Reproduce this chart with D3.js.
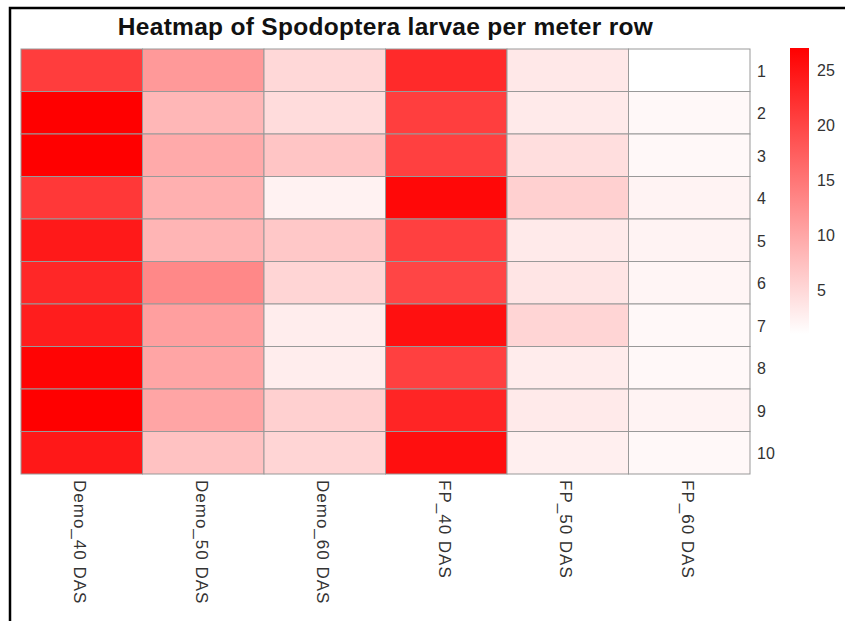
<!DOCTYPE html>
<html>
<head>
<meta charset="utf-8">
<script src="https://cdn.jsdelivr.net/npm/d3@7"></script>
<style>
  html, body { margin: 0; padding: 0; background: #ffffff; }
  svg { display: block; }
  text { font-family: "Liberation Sans", Arial, Helvetica, sans-serif; }
</style>
</head>
<body>
<svg id="chart" width="845" height="621"></svg>
<script>
// ---- data ----
const columns = ["Demo_40 DAS", "Demo_50 DAS", "Demo_60 DAS", "FP_40 DAS", "FP_50 DAS", "FP_60 DAS"];
const rows = ["1", "2", "3", "4", "5", "6", "7", "8", "9", "10"];
const demo40 = [20.8, 27.0, 27.0, 21.3, 24.5, 23.0, 24.0, 26.6, 27.0, 24.6];
const demo50 = [11.4, 8.3, 9.7, 9.1, 8.5, 13.1, 10.8, 10.2, 10.2, 7.2];
const demo60 = [5.0, 4.6, 6.9, 2.3, 6.6, 5.3, 2.8, 2.8, 5.8, 5.3];
const fp40 = [22.7, 20.7, 20.5, 26.2, 20.5, 20.0, 25.4, 20.5, 23.2, 25.5];
const fp50 = [3.3, 3.1, 4.4, 5.8, 3.1, 3.7, 5.3, 2.9, 3.1, 2.6];
const fp60 = [1.0, 1.7, 1.7, 2.2, 2.2, 2.0, 1.7, 1.7, 2.2, 1.7];
const legendTicks = [5, 10, 15, 20, 25];
const title = "Heatmap of Spodoptera larvae per meter row";

const series = [demo40, demo50, demo60, fp40, fp50, fp60];
const cells = [];
series.forEach((vals, ci) => vals.forEach((v, ri) => cells.push({col: columns[ci], row: rows[ri], value: v})));

// ---- layout ----
const svg = d3.select("#chart");
const grid = {left: 21, right: 750, top: 49, bottom: 474};

// outer frame (only left/top edges fall inside the picture)
svg.append("rect")
  .attr("x", 10).attr("y", 8).attr("width", 900).attr("height", 700)
  .attr("fill", "none").attr("stroke", "#000").attr("stroke-width", 2.5);

const x = d3.scaleBand().domain(columns).range([grid.left, grid.right]);
const y = d3.scaleBand().domain(rows).range([grid.top, grid.bottom]);
const ext = d3.extent(cells, d => d.value);
const color = d3.scaleLinear().domain(ext).range(["#ffffff", "#ff0000"]);

// cells
svg.append("g").selectAll("rect").data(cells).join("rect")
  .attr("x", d => x(d.col)).attr("y", d => y(d.row))
  .attr("width", x.bandwidth()).attr("height", y.bandwidth())
  .attr("fill", d => color(d.value))
  .attr("stroke", "#999999").attr("stroke-width", 1);

// title
svg.append("text")
  .attr("x", (grid.left + grid.right) / 2).attr("y", 35)
  .attr("text-anchor", "middle")
  .attr("font-size", 24.5).attr("font-weight", "bold").attr("fill", "#111")
  .attr("letter-spacing", 0.3)
  .text(title);

// row labels
svg.append("g").selectAll("text").data(rows).join("text")
  .attr("x", grid.right + 7).attr("y", d => y(d) + y.bandwidth() / 2 + 1)
  .attr("dominant-baseline", "central")
  .attr("font-size", 16).attr("fill", "#333")
  .text(d => d);

// column labels (rotated)
svg.append("g").selectAll("text").data(columns).join("text")
  .attr("transform", d => `translate(${x(d) + x.bandwidth() / 2 - 2},${grid.bottom + 6}) rotate(90)`)
  .attr("dominant-baseline", "central")
  .attr("font-size", 17).attr("fill", "#333")
  .attr("letter-spacing", 1)
  .text(d => d);

// legend
const leg = {x: 790, w: 19, top: 48};
const ly = d3.scaleLinear().domain([ext[1], 25]).range([leg.top, 70]);
const legBottom = ly(ext[0]);
const defs = svg.append("defs");
const grad = defs.append("linearGradient").attr("id", "lg")
  .attr("x1", 0).attr("y1", 1).attr("x2", 0).attr("y2", 0);
grad.append("stop").attr("offset", "0%").attr("stop-color", color(ext[0]));
grad.append("stop").attr("offset", "100%").attr("stop-color", color(ext[1]));
svg.append("rect")
  .attr("x", leg.x).attr("y", leg.top).attr("width", leg.w).attr("height", legBottom - leg.top)
  .attr("fill", "url(#lg)");
svg.append("g").selectAll("text").data(legendTicks).join("text")
  .attr("x", leg.x + leg.w + 8).attr("y", d => ly(d))
  .attr("dominant-baseline", "central")
  .attr("font-size", 16).attr("fill", "#333")
  .text(d => d);
</script>
</body>
</html>
